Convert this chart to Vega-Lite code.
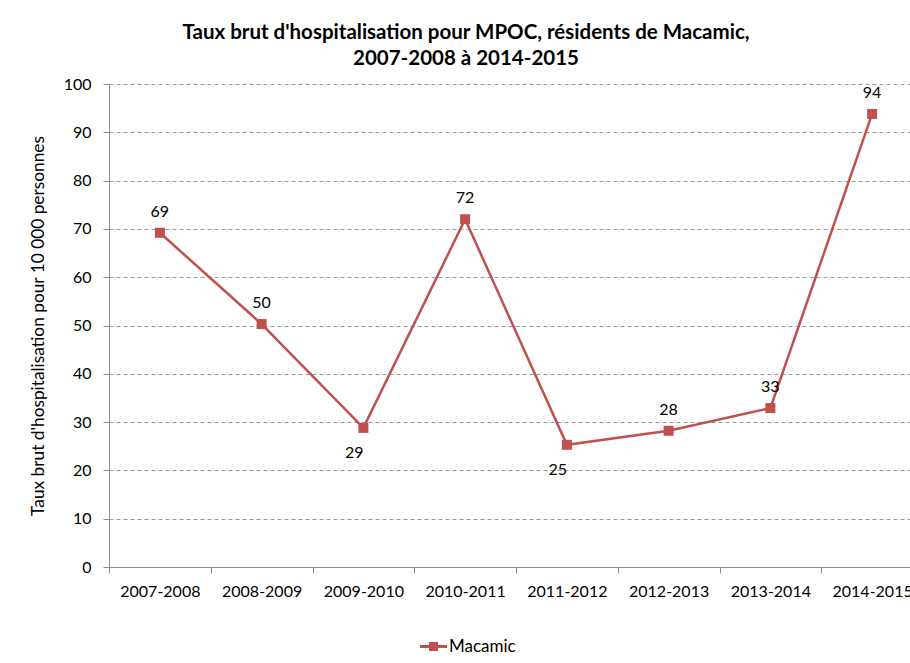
{
  "$schema": "https://vega.github.io/schema/vega-lite/v6.json",
  "autosize": "none",
  "width": 814,
  "height": 483,
  "padding": {"left": 109, "top": 84, "right": -13, "bottom": 96},
  "background": "white",
  "config": {
    "font": "Lato",
    "view": {"stroke": null},
    "axis": {"labelFont": "Lato", "titleFont": "Lato", "labelColor": "black", "titleColor": "black"}
  },
  "title": {
    "text": ["Taux brut d'hospitalisation pour MPOC, résidents de Macamic,", "2007-2008 à 2014-2015"],
    "font": "Lato",
    "fontSize": 20.5,
    "fontWeight": "bold",
    "color": "black",
    "anchor": "middle",
    "frame": "group",
    "dx": -50,
    "lineHeight": 26,
    "offset": 7
  },
  "data": {
    "values": [
      {"periode": "2007-2008", "taux": 69.2, "etiquette": "69"},
      {"periode": "2008-2009", "taux": 50.3, "etiquette": "50"},
      {"periode": "2009-2010", "taux": 28.8, "etiquette": "29"},
      {"periode": "2010-2011", "taux": 72.0, "etiquette": "72"},
      {"periode": "2011-2012", "taux": 25.3, "etiquette": "25"},
      {"periode": "2012-2013", "taux": 28.2, "etiquette": "28"},
      {"periode": "2013-2014", "taux": 32.9, "etiquette": "33"},
      {"periode": "2014-2015", "taux": 93.8, "etiquette": "94"}
    ]
  },
  "encoding": {
    "x": {
      "field": "periode",
      "type": "nominal",
      "sort": null,
      "scale": {"type": "band", "paddingInner": 0, "paddingOuter": 0},
      "axis": {
        "title": null,
        "labelAngle": 0,
        "labelFontSize": 16,
        "tickBand": "extent",
        "tickSize": 6,
        "tickColor": "#8c8c8c",
        "domainColor": "#8c8c8c",
        "labelPadding": 10,
        "grid": false
      }
    },
    "y": {
      "field": "taux",
      "type": "quantitative",
      "scale": {"domain": [0, 100]},
      "axis": {
        "title": "Taux brut d'hospitalisation pour 10 000 personnes",
        "titleFontSize": 17.3,
        "titleFontWeight": "normal",
        "titlePadding": 16,
        "values": [0, 10, 20, 30, 40, 50, 60, 70, 80, 90, 100],
        "labelFontSize": 16,
        "labelPadding": 12,
        "tickSize": 6,
        "tickColor": "#8c8c8c",
        "domainColor": "#8c8c8c",
        "gridColor": "#9a9a9a",
        "gridDash": [4, 3],
        "gridWidth": 1
      }
    }
  },
  "layer": [
    {
      "mark": {"type": "line", "strokeWidth": 2.5},
      "encoding": {
        "color": {
          "datum": "Macamic",
          "type": "nominal",
          "scale": {"range": ["#C0504D"]},
          "legend": {
            "title": null,
            "orient": "none",
            "legendX": 311,
            "legendY": 549,
            "labelFontSize": 17,
            "labelFont": "Lato",
            "labelColor": "black",
            "symbolType": "M-1,-0.11H1V0.11H-1Z M-0.33,-0.33H0.33V0.33H-0.33Z",
            "symbolSize": 729,
            "symbolFillColor": "#C0504D",
            "symbolStrokeWidth": 0,
            "labelOffset": 2
          }
        }
      }
    },
    {
      "mark": {"type": "point", "shape": "square", "filled": true, "size": 100, "opacity": 1},
      "encoding": {
        "color": {"datum": "Macamic", "type": "nominal"}
      }
    },
    {
      "transform": [{"filter": "datum.periode != '2009-2010' && datum.periode != '2011-2012'"}],
      "mark": {"type": "text", "fontSize": 16, "font": "Lato", "color": "black", "dy": -21},
      "encoding": {"text": {"field": "etiquette"}}
    },
    {
      "transform": [{"filter": "datum.periode == '2009-2010' || datum.periode == '2011-2012'"}],
      "mark": {"type": "text", "fontSize": 16, "font": "Lato", "color": "black", "dy": 25, "dx": -9},
      "encoding": {"text": {"field": "etiquette"}}
    }
  ]
}
